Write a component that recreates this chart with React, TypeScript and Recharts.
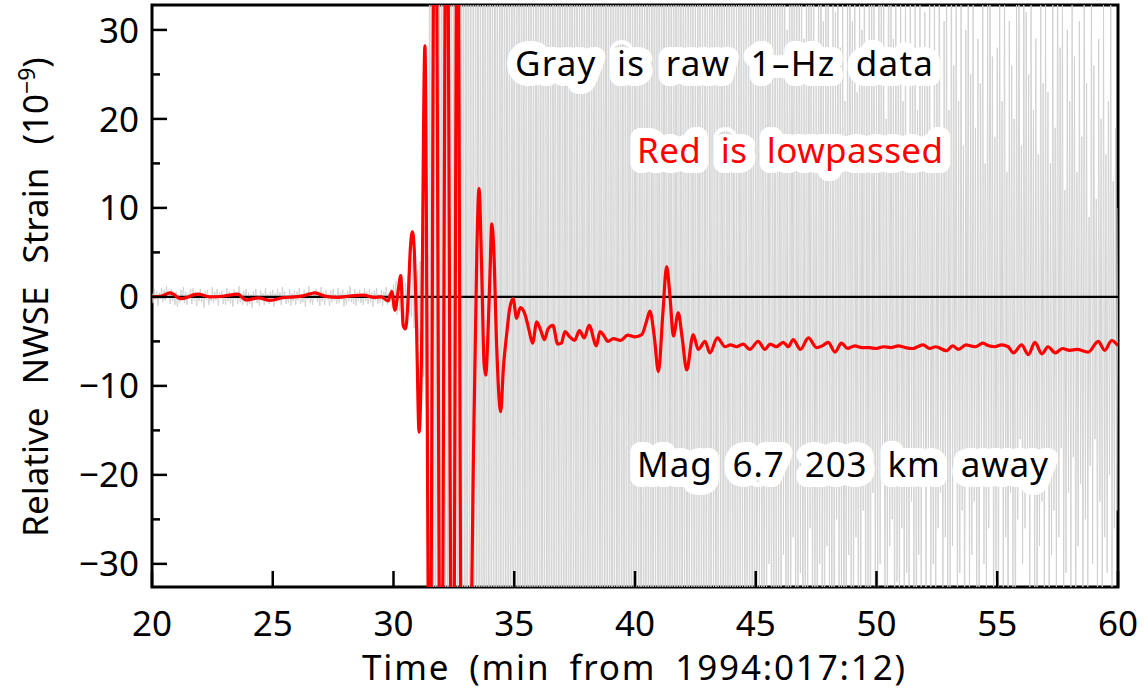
import React from 'react';
import { ComposedChart, Line, XAxis, YAxis, ReferenceLine, ReferenceArea } from 'recharts';

const xTicks = [20, 25, 30, 35, 40, 45, 50, 55, 60];
const yTicks = [-30, -25, -20, -15, -10, -5, 0, 5, 10, 15, 20, 25, 30];

// raw 1-Hz record, one value every 0.05 min starting at 20 min
const grayStart = 20;
const grayStep = 0.05;
const grayV = [
  0.4, -0.7, 0.9, -0.3, 0.6, -1.0, 0.5, -0.2, 1.0, -0.6, 0.8, -0.4, 1.2, -0.1, 0.7, -0.8, 0.9, -0.5, 0.3, -0.9, // 20
  0.6, -1.1, 0.2, -0.6, 0.8, -0.3, 1.1, -0.7, 0.5, -0.9, 0.4, -0.2, 0.9, -0.8, 1.0, -0.4, 0.6, -1.0, 0.3, -0.5, // 21
  0.9, -0.6, 0.4, -1.2, 0.7, -0.3, 0.8, -0.9, 0.2, -0.5, 1.1, -0.7, 0.6, -0.4, 0.9, -1.0, 0.5, -0.2, 0.7, -0.8, // 22
  0.3, -0.9, 1.0, -0.5, 0.6, -0.7, 0.4, -1.1, 0.8, -0.3, 0.5, -0.8, 1.2, -0.6, 0.2, -0.9, 0.7, -0.4, 0.9, -1.0, // 23
  0.5, -0.8, 0.3, -1.2, 0.6, -0.5, 0.9, -0.7, 0.2, -1.0, 0.7, -0.4, 0.4, -0.9, 1.0, -0.6, 0.3, -0.8, 0.6, -0.3, // 24
  0.8, -1.1, 0.4, -0.6, 0.9, -0.4, 0.5, -0.9, 1.1, -0.3, 0.6, -0.8, 0.2, -0.7, 0.9, -1.0, 0.4, -0.5, 0.7, -0.9, // 25
  0.6, -0.4, 1.0, -0.8, 0.3, -0.6, 0.8, -1.1, 0.5, -0.3, 1.2, -0.7, 0.4, -0.9, 0.7, -0.2, 0.9, -0.6, 0.5, -1.0, // 26
  1.1, -0.5, 0.6, -0.9, 0.8, -0.3, 0.4, -1.0, 0.7, -0.6, 0.9, -0.4, 0.3, -0.8, 1.0, -0.7, 0.5, -0.3, 0.8, -1.1, // 27
  0.4, -0.9, 0.7, -0.5, 1.2, -0.6, 0.3, -0.8, 0.9, -1.0, 0.5, -0.4, 0.8, -0.7, 0.2, -0.9, 1.0, -0.5, 0.6, -0.8, // 28
  0.9, -0.6, 0.5, -1.1, 0.7, -0.4, 1.0, -0.8, 0.3, -0.7, 0.8, -1.0, 0.6, -0.3, 1.1, -0.9, 0.4, -0.6, 0.9, -1.2, // 29
  1.4, -1.2, 1.8, -2.0, 1.5, -1.6, 2.2, -2.5, 1.0, -3.0, 1.6, -2.8, 2.4, -1.9, 3.0, -2.2, 4.5, -3.5, 5.0, -6.0, // 30
  3, -5, 4, -7, 6, -9, 8, -12, 10, -45, 62, -48, 70, -66, 58, -72, 80, -60, 68, -75, // 31
  72, -65, 84, -58, 66, -80, 75, -62, 90, -70, 58, -85, 77, -68, 63, -74, 88, -59, 70, -82, // 32
  65, -78, 81, -60, 74, -88, 56, -70, 69, -64, 85, -75, 61, -90, 78, -57, 67, -83, 73, -66, // 33
  80, -62, 59, -77, 86, -69, 64, -81, 71, -58, 92, -73, 60, -67, 79, -86, 57, -71, 83, -63, // 34
  68, -84, 75, -56, 62, -79, 87, -65, 58, -72, 76, -89, 66, -61, 81, -70, 55, -78, 72, -60, // 35
  85, -67, 61, -82, 70, -58, 79, -74, 63, -87, 57, -69, 84, -62, 73, -80, 66, -56, 90, -71, // 36
  59, -76, 82, -64, 68, -85, 74, -59, 88, -66, 62, -78, 71, -83, 56, -68, 80, -61, 65, -86, // 37
  77, -63, 64, -79, 58, -72, 86, -67, 70, -57, 83, -81, 60, -74, 75, -65, 89, -70, 62, -58, // 38
  66, -88, 73, -61, 84, -69, 57, -76, 79, -63, 68, -84, 62, -71, 87, -59, 74, -66, 58, -80, // 39
  71, -59, 88, -74, 63, -82, 76, -65, 55, -78, 82, -60, 69, -87, 64, -70, 78, -57, 85, -68, // 40
  60, -81, 74, -68, 86, -57, 67, -79, 72, -64, 58, -85, 80, -62, 66, -73, 89, -69, 61, -76, // 41
  62, -48, 55, -70, 44, -58, 66, -39, 52, -61, 47, -68, 58, -42, 71, -53, 40, -64, 57, -49, // 42
  49, -63, 38, -55, 67, -44, 53, -72, 41, -58, 64, -36, 56, -50, 45, -66, 60, -43, 35, -57, // 43
  58, -41, 47, -62, 36, -54, 69, -46, 52, -38, 61, -59, 43, -67, 50, -35, 63, -48, 40, -56, // 44
  44, -60, 55, -37, 62, -51, 34, -65, 48, -42, 57, -30, 66, -53, 39, -47, 52, -61, 45, -33, // 45
  38, -52, 61, -29, 47, -44, 30, -58, 55, -36, 42, -27, 64, -49, 33, -40, 50, -31, 46, -55, // 46
  29, -45, 52, -34, 41, -26, 57, -48, 35, -39, 24, -53, 46, -30, 62, -37, 31, -50, 43, -28, // 47
  48, -33, 26, -47, 39, -55, 32, -25, 51, -41, 28, -36, 44, -58, 22, -43, 37, -29, 55, -34, // 48
  31, -42, 45, -27, 23, -51, 40, -35, 30, -24, 49, -46, 27, -33, 36, -56, 42, -22, 34, -39, // 49
  25, -38, 41, -30, 47, -21, 33, -44, 20, -36, 52, -28, 37, -25, 29, -48, 44, -32, 24, -41, // 50
  39, -26, 22, -45, 35, -31, 18, -40, 46, -23, 28, -37, 34, -50, 21, -29, 42, -34, 26, -19, // 51
  32, -44, 27, -20, 43, -35, 16, -30, 38, -47, 24, -26, 48, -22, 19, -39, 31, -27, 40, -33, // 52
  21, -36, 45, -28, 26, -18, 34, -42, 22, -31, 37, -24, 17, -46, 30, -21, 41, -35, 25, -29, // 53
  36, -23, 19, -38, 29, -45, 24, -17, 43, -30, 15, -34, 33, -26, 47, -20, 27, -41, 18, -32, // 54
  28, -40, 34, -19, 22, -33, 39, -27, 14, -44, 31, -22, 26, -36, 20, -48, 35, -25, 42, -16, // 55
  17, -30, 44, -26, 32, -21, 25, -39, 37, -18, 21, -35, 29, -43, 16, -28, 38, -23, 24, -37, // 56
  33, -20, 23, -41, 15, -29, 40, -24, 19, -34, 46, -27, 28, -17, 35, -38, 12, -31, 30, -22, // 57
  22, -36, 38, -18, 27, -45, 14, -28, 31, -21, 18, -40, 42, -25, 24, -33, 9, -19, 36, -30, // 58
  26, -16, 11, -37, 29, -23, 20, -42, 34, -27, 16, -31, 22, -20, 39, -35, 13, -26, 19, -24, // 59
  10,
];

// lowpassed trace
const redT = [
  20.0, 20.4, 20.75, 21.2, 21.9, 22.4, 23.0, 23.55, 23.9, 24.4, 24.9, 25.4, 25.9, 26.3, 26.75, 27.2, 27.7, 28.2, 28.75, 29.2,
  29.5, 29.77, 29.93, 30.06, 30.19, 30.3, 30.4, 30.5, 30.6, 30.7, 30.78, 30.85, 30.95, 31.06, 31.15, 31.3, 31.5, 31.72, 31.97, 32.2,
  32.45, 32.65, 32.85, 33.1, 33.3, 33.45, 33.54, 33.65, 33.75, 33.82, 33.9, 34.0, 34.07, 34.15, 34.27, 34.44, 34.55, 34.69, 34.8, 34.95,
  35.1, 35.25, 35.45, 35.6, 35.76, 35.93, 36.1, 36.25, 36.4, 36.6, 36.8, 36.95, 37.1, 37.3, 37.5, 37.7, 37.9, 38.1, 38.4, 38.55,
  38.7, 38.88, 39.1, 39.4, 39.7, 40.0, 40.28, 40.45, 40.62, 40.8, 40.97, 41.15, 41.31, 41.45, 41.59, 41.79, 41.95, 42.14, 42.41, 42.62,
  42.9, 43.1, 43.41, 43.73, 43.95, 44.2, 44.48, 44.75, 45.1, 45.38, 45.6, 45.85, 46.14, 46.35, 46.55, 46.85, 47.18, 47.52, 47.75, 48.0,
  48.28, 48.55, 48.8, 49.1, 49.4, 49.7, 50.0, 50.3, 50.6, 50.9, 51.2, 51.5, 51.7, 51.93, 52.2, 52.45, 52.9, 53.15, 53.4, 53.7,
  53.9, 54.1, 54.4, 54.65, 54.9, 55.18, 55.45, 55.67, 56.01, 56.29, 56.56, 56.85, 57.1, 57.4, 57.7, 58.0, 58.3, 58.77, 59.18, 59.45,
  59.74, 60.0,
];
const redV = [
  0.0, 0.1, 0.45, -0.2, 0.3, 0.0, 0.1, 0.3, -0.35, -0.1, -0.4, -0.1, 0.0, 0.15, 0.45, 0.05, -0.05, 0.1, 0.2, -0.05,
  0.0, -0.45, 0.6, -1.5, 0.6, 2.4, -3.2, -3.6, -0.5, 5.5, 7.3, 5.8, -3.0, -15.2, -8.0, 28.2, -55, 60, -60, 55,
  -65, 50, -70, -60, -20, 5.0, 12.2, 3.2, -7.5, -8.8, -5.0, 3.0, 8.2, 5.5, -5.4, -12.9, -8.0, -4.1, -1.5, -0.2,
  -2.4, -1.2, -2.0, -3.6, -5.2, -2.8, -3.8, -4.8, -3.6, -3.2, -5.3, -5.2, -3.9, -4.5, -4.9, -3.8, -4.6, -3.2, -5.5, -3.9,
  -4.3, -5.0, -4.7, -4.9, -4.3, -4.5, -4.25, -3.0, -1.6, -4.5, -8.4, -2.0, 3.4, 0.0, -4.4, -1.8, -4.5, -8.2, -4.25, -5.9,
  -5.0, -6.3, -4.6, -5.6, -5.4, -5.6, -5.3, -5.9, -5.0, -5.9, -5.3, -5.6, -5.1, -5.6, -4.8, -5.9, -4.6, -5.7, -5.5, -5.1,
  -6.2, -5.2, -5.8, -5.5, -5.7, -5.7, -5.8, -5.6, -5.7, -5.5, -5.7, -5.8, -5.6, -5.4, -5.8, -5.6, -6.05, -5.5, -5.9, -5.4,
  -5.5, -5.6, -5.2, -5.5, -5.6, -5.4, -5.6, -6.3, -5.4, -6.5, -5.1, -6.4, -5.6, -6.3, -5.8, -6.0, -5.9, -6.2, -5.0, -6.0,
  -4.9, -5.5,
];

const grayData = grayV.map((v, i) => ({ t: grayStart + i * grayStep, v }));
const redData = redT.map((t, i) => ({ t, v: redV[i] }));

const FONT = '"Noto Sans", "DejaVu Sans", sans-serif';
const fmt = (v: number) => (v < 0 ? '\u2212' + Math.abs(v) : String(v));

const YTick = (props: any) => {
  const { x, y, payload } = props;
  const major = payload.value % 10 === 0;
  return <g>
      <line x1={x} x2={x + (major ? 15 : 8)} y1={y} y2={y} stroke="#000" strokeWidth={2.5} />
      {major && <text x={x - 13} y={y} dy="0.36em" textAnchor="end" fontSize={35} fontFamily={FONT} fill="#000">
          {fmt(payload.value)}
        </text>}
    </g>;
};

const XTick = (props: any) => {
  const { x, y, payload } = props;
  return <g>
      <line x1={x} x2={x} y1={y} y2={y - 16} stroke="#000" strokeWidth={2.5} />
      <text x={x} y={y + 49} textAnchor="middle" fontSize={35} fontFamily={FONT} fill="#000">
        {payload.value}
      </text>
    </g>;
};

// text with a white halo: stroke pass underneath, fill pass on top
const Halo = ({ x, y, len, color, children }: any) => <g style={{ wordSpacing: 10 }}>
    <text x={x} y={y} textLength={len} lengthAdjust="spacing" fill="#fff" stroke="#fff" strokeWidth={20}
      strokeLinejoin="round">
      {children}
    </text>
    <text x={x} y={y} textLength={len} lengthAdjust="spacing" fill={color}>
      {children}
    </text>
  </g>;

export default function App() {
  return <div style={{ position: 'absolute', left: 0, top: 0, width: 1144, height: 689, background: '#fff' }}>
      <ComposedChart width={1144} height={689} margin={{ top: 5, right: 26, bottom: 2, left: 12 }}>
        <XAxis type="number" dataKey="t" domain={[20, 60]} allowDataOverflow ticks={xTicks} interval={0}
          axisLine={false} tickLine={false} tickSize={0} tickMargin={0} height={100} tick={<XTick />} />
        <YAxis type="number" dataKey="v" domain={[-32.6, 32.8]} allowDataOverflow ticks={yTicks} interval={0}
          axisLine={false} tickLine={false} tickSize={0} tickMargin={0} width={140} tick={<YTick />} />
        <Line data={grayData} dataKey="v" type="linear" stroke="#cfcfcf" strokeWidth={0.9} dot={false}
          activeDot={false} isAnimationActive={false} />
        <ReferenceLine y={0} stroke="#000" strokeWidth={2.2} />
        <Line data={redData} dataKey="v" type="monotone" stroke="#ff0000" strokeWidth={3.2} dot={false}
          activeDot={false} isAnimationActive={false} />
        <ReferenceArea x1={20} x2={60} y1={-32.6} y2={32.8} fill="none" stroke="#000" strokeWidth={3}
          fillOpacity={0} />
      </ComposedChart>
      <svg width={1144} height={689} style={{ position: 'absolute', left: 0, top: 0, pointerEvents: 'none' }}>
        <g fontFamily={FONT} fontSize={35}>
          <Halo x={515} y={76} len={418} color="#000">Gray is raw 1–Hz data</Halo>
          <Halo x={637} y={163} len={306} color="#ff0000">Red is lowpassed</Halo>
          <Halo x={637} y={477} len={411} color="#000">Mag 6.7 203 km away</Halo>
          <text x={362} y={680} textLength={543} lengthAdjust="spacing" fill="#000" style={{ wordSpacing: 8 }}>
            Time (min from 1994:017:12)
          </text>
          <text transform="translate(48, 297) rotate(-90)" textAnchor="middle" fill="#000" fontSize={35}
            style={{ wordSpacing: 14 }}>
            Relative NWSE Strain (10<tspan dy={-13} fontSize={23}>−9</tspan><tspan dy={13}>)</tspan>
          </text>
        </g>
      </svg>
    </div>;
}
